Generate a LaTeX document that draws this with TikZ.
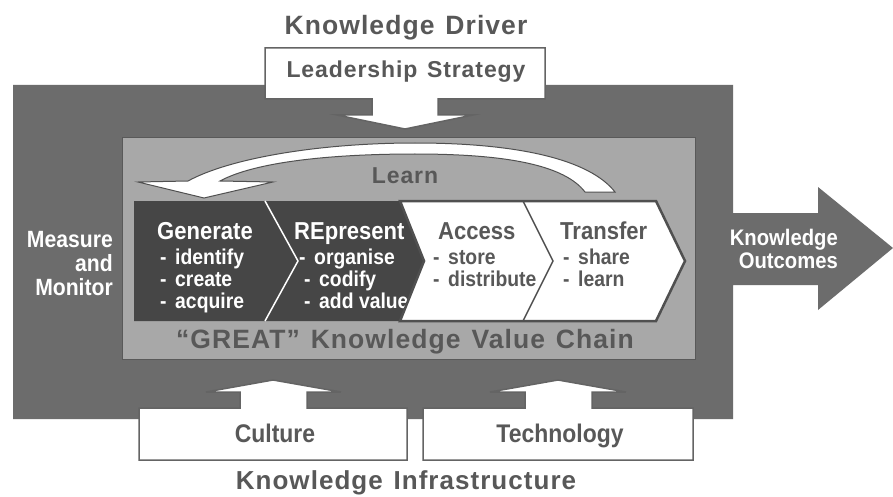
\documentclass[tikz,border=0pt]{standalone}
\usepackage{fontspec}
\setmainfont{Liberation Sans}[FakeStretch=0.9]
\newfontfamily\spacedfont{Liberation Sans}[LetterSpace=4, WordSpace=1.3]
\usetikzlibrary{calc}
\definecolor{outergray}{RGB}{108,108,108}
\definecolor{innergray}{RGB}{168,168,168}
\definecolor{chaindark}{RGB}{70,70,70}
\definecolor{textgray}{RGB}{88,88,88}
\definecolor{linegray}{RGB}{100,100,100}
\definecolor{outlinegray}{RGB}{80,80,80}
\newcommand{\fs}[1]{\fontsize{#1pt}{#1pt}\selectfont}
\newcommand{\dsh}{-\hspace{0.4em}}
\begin{document}
\begin{tikzpicture}[x=1pt,y=-1pt,
  lbl/.style={inner sep=0pt, anchor=base},
  lblw/.style={lbl, anchor=base west},
  lble/.style={lbl, anchor=base east},
  titletext/.style={text=textgray, font=\spacedfont\bfseries},
  graytext/.style={text=textgray, font=\bfseries},
  whitetext/.style={text=white, font=\bfseries},
  whitebox/.style={fill=white, draw=linegray, line width=1.5pt, line join=miter},
]
\useasboundingbox (0,0) rectangle (893,497);
\fill[white] (0,0) rectangle (893,497);

% outer box with outcomes arrow
\fill[outergray] (13,85) -- (733,85) -- (733,213) -- (818,213) -- (818,187) -- (893,248)
  -- (818,310) -- (818,285) -- (733,285) -- (733,419) -- (13,419) -- cycle;

% inner box
\filldraw[fill=innergray, draw=gray!70!black, line width=0.8pt] (122,137) rectangle (695,359);

% leadership box + arrow
\filldraw[whitebox] (265,48) -- (545,48) -- (545,99) -- (438,99) -- (438,115) -- (473,115)
  -- (405,129) -- (337,115) -- (372,115) -- (372,99) -- (265,99) -- cycle;

% culture box + arrow
\filldraw[whitebox] (139,460) -- (139,408) -- (240,408) -- (240,392) -- (206,392) -- (273,380)
  -- (341,392) -- (307,392) -- (307,408) -- (407,408) -- (407,460) -- cycle;

% technology box + arrow
\filldraw[whitebox] (423,460) -- (423,408) -- (525,408) -- (525,392) -- (490,392) -- (558,380)
  -- (626,392) -- (592,392) -- (592,408) -- (693,408) -- (693,460) -- cycle;

% Learn loop arrow
\filldraw[fill=white, draw=outlinegray, line width=1pt, line join=miter]
  (138,182) -- (188,181) .. controls (230,158) and (320,143) .. (415,143)
  .. controls (520,143) and (590,160) .. (615,192) -- (585,192)
  .. controls (565,166) and (510,154) .. (415,154)
  .. controls (330,154) and (255,162) .. (220,181) -- (273,182) -- (204,198) -- cycle;

% value chain: dark part
\fill[chaindark] (134,201) -- (400,201) -- (424,261) -- (400,321) -- (134,321) -- cycle;
\draw[white, line width=1.5pt] (265,201) -- (298,261) -- (265,321);

\node[lblw, whitetext] (gen) at (157,239) {\fs{24.5}Generate};
\node[lblw, whitetext] (gen1) at (160,264) {\fs{21.5}\dsh identify};
\node[lblw, whitetext] (gen2) at (160,286) {\fs{21.5}\dsh create};
\node[lblw, whitetext] (gen3) at (160,308) {\fs{21.5}\dsh acquire};

\node[lblw, whitetext] (rep) at (294,239) {\fs{24.5}REpresent};
\node[lblw, whitetext] (rep1) at (299,264) {\fs{21.5}\dsh organise};
\node[lblw, whitetext] (rep2) at (304,286) {\fs{21.5}\dsh codify};
\node[lblw, whitetext] (rep3) at (304,308) {\fs{21.5}\dsh add value};

% value chain: white part
\filldraw[fill=white, draw=outlinegray, line width=2.5pt, line join=miter]
  (400,201) -- (656,201) -- (685,261) -- (656,321) -- (400,321) -- (424,261) -- cycle;
\draw[outlinegray, line width=1.5pt] (523,201) -- (553,261) -- (523,321);

\node[lblw, graytext] (acc) at (438,239) {\fs{24.5}Access};
\node[lblw, graytext] (acc1) at (433,264) {\fs{21.5}\dsh store};
\node[lblw, graytext] (acc2) at (433,286) {\fs{21.5}\dsh distribute};

\node[lblw, graytext] (tra) at (560,239) {\fs{24.5}Transfer};
\node[lblw, graytext] (tra1) at (563,264) {\fs{21.5}\dsh share};
\node[lblw, graytext] (tra2) at (563,286) {\fs{21.5}\dsh learn};

% titles and labels
\node[lbl, titletext] (driver) at (406,35) {\fs{26.5}Knowledge Driver};
\node[lbl, titletext] (lead) at (406,78) {\fs{23}Leadership Strategy};
\node[lbl, titletext] (learn) at (405,183) {\fs{23}Learn};
\node[lbl, titletext] (great) at (405,348) {\fs{26.5}“GREAT” Knowledge Value Chain};
\node[lbl, graytext] (culture) at (275,442) {\fs{25.5}Culture};
\node[lbl, graytext] (tech) at (560,442) {\fs{25.5}Technology};
\node[lbl, titletext] (infra) at (406,489) {\fs{26}Knowledge Infrastructure};

\node[lble, whitetext] (meas1) at (113,247) {\fs{23.5}Measure};
\node[lble, whitetext] (meas2) at (113,271) {\fs{23.5}and};
\node[lble, whitetext] (meas3) at (113,295) {\fs{23.5}Monitor};

\node[lble, whitetext] (out1) at (838,245) {\fs{22.5}Knowledge};
\node[lble, whitetext] (out2) at (838,268) {\fs{22.5}Outcomes};
\end{tikzpicture}
\end{document}
